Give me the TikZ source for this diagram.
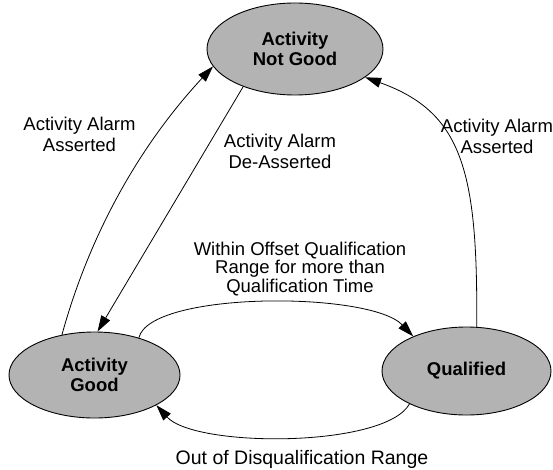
\documentclass[tikz,border=0pt]{standalone}
\usepackage{fontspec}
\setmainfont{Liberation Sans}
\usetikzlibrary{arrows.meta,shapes.geometric}
\definecolor{stategray}{RGB}{179,179,179}
\tikzset{
  state/.style={ellipse, draw=black, line width=0.9pt, fill=stategray, inner sep=0pt,
    align=center, font=\fontsize{18.5}{20}\selectfont\bfseries},
  lbl/.style={align=center, inner sep=0pt, font=\fontsize{18.5}{21}\selectfont},
  tight/.style={align=center, inner sep=0pt, font=\fontsize{18.5}{16.5}\selectfont},
  conn/.style={line width=0.8pt, -{Triangle[length=16pt,width=10pt]}}
}
\begin{document}
\begin{tikzpicture}[x=1pt,y=-1pt]
\useasboundingbox (0,0) rectangle (553,470);
\node[state, minimum width=176pt, minimum height=92pt] (notgood) at (295,49) {Activity\\Not Good};
\node[state, minimum width=171pt, minimum height=86pt] (good) at (94.5,375) {Activity\\Good};
\node[state, minimum width=169pt, minimum height=88pt] (qual) at (466.5,371) {Qualified};

\node[lbl] (lblL) at (79.5,134) {Activity Alarm\\Asserted};
\node[lbl] (lblD) at (280,151) {Activity Alarm\\De-Asserted};
\node[lbl] (lblR) at (497,136) {Activity Alarm\\Asserted};
\node[tight] (lblW) at (300,269) {Within Offset Qualification\\Range for more than\\Qualification Time};
\node[lbl, font=\fontsize{19.5}{21}\selectfont] (lblO) at (302,459) {Out of Disqualification Range};

\draw[conn] (good.129.4) .. controls (90,233) and (140,145) .. (notgood.192.6);
\draw[conn] (notgood.216.9) -- (good.86.8);
\draw[conn] (qual.77.8) .. controls (478,170) and (462,112) .. (notgood.-22.5);
\draw[conn] (good.40.6) .. controls (150,291) and (370,291) .. (qual.147.5);
\draw[conn] (qual.210.2) .. controls (385,448) and (195,448) .. (good.-26.7);
\end{tikzpicture}
\end{document}
